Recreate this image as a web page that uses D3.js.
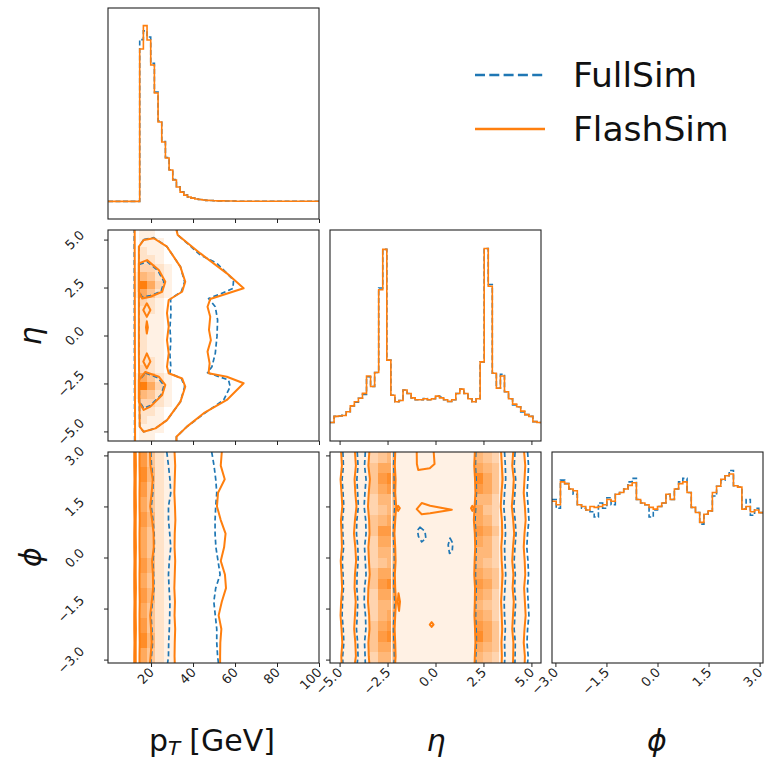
<!DOCTYPE html>
<html>
<head>
<meta charset="utf-8" />
<title>FullSim vs FlashSim corner plot</title>
<script src="https://d3js.org/d3.v7.min.js"></script>
<style>
  body { margin: 0; background: #ffffff; }
  svg text { font-family: 'DejaVu Sans', sans-serif; }
</style>
</head>
<body>
<svg id="viz" width="769" height="760"></svg>
<script>

// ---------- data ----------
var ptDomain = [-0.5, 100], etaDomain = [-5.5, 5.5], phiDomain = [-3.1, 3.1];
var ptTicks = [20, 40, 60, 80, 100];
var etaTicks = [-5, -2.5, 0, 2.5, 5];
var phiTicks = [-3, -1.5, 0, 1.5, 3];

// 1D histograms (normalised to the FlashSim maximum)
var ptStart = 14.6, ptWidth = 1.75;
var ptFlash = [0.867, 1.0, 0.918, 0.776, 0.617, 0.452, 0.338, 0.247, 0.179, 0.122, 0.082, 0.053, 0.036, 0.025,
  0.019, 0.014, 0.011, 0.008, 0.006, 0.005, 0.004, 0.003, 0.003, 0.002, 0.002, 0.002, 0.001, 0.001, 0.001, 0.001,
  0.001, 0.001, 0.001, 0.001, 0.001, 0.001, 0.001, 0.001, 0.001, 0.001, 0.001, 0.001, 0.001, 0.001, 0.001, 0.001,
  0.001, 0.001, 0.001];
var ptFull = [0.92, 0.97, 0.935, 0.785, 0.622, 0.457, 0.34, 0.25, 0.18, 0.124, 0.083, 0.054, 0.037, 0.026,
  0.019, 0.014, 0.011, 0.008, 0.006, 0.005, 0.004, 0.003, 0.003, 0.002, 0.002, 0.002, 0.001, 0.001, 0.001, 0.001,
  0.001, 0.001, 0.001, 0.001, 0.001, 0.001, 0.001, 0.001, 0.001, 0.001, 0.001, 0.001, 0.001, 0.001, 0.001, 0.001,
  0.001, 0.001, 0.001];

var etaStart = -5.5, etaWidth = 11 / 52;
var etaFlash = [0.005, 0.04, 0.042, 0.045, 0.066, 0.10, 0.123, 0.143, 0.171, 0.27,
  0.21, 0.29, 0.76, 0.99, 0.36, 0.16, 0.123, 0.13, 0.19, 0.17,
  0.145, 0.135, 0.135, 0.14, 0.135, 0.14, 0.155, 0.145, 0.135, 0.125,
  0.135, 0.17, 0.195, 0.17, 0.14, 0.123, 0.14, 0.35, 0.995, 0.78,
  0.285, 0.20, 0.27, 0.18, 0.14, 0.11, 0.095, 0.07, 0.05, 0.04,
  0.01, 0.005];
var etaFull = [0.005, 0.04, 0.042, 0.047, 0.066, 0.10, 0.12, 0.143, 0.165, 0.265,
  0.21, 0.29, 0.77, 0.99, 0.36, 0.16, 0.123, 0.13, 0.19, 0.17,
  0.145, 0.135, 0.135, 0.142, 0.135, 0.14, 0.155, 0.15, 0.135, 0.125,
  0.135, 0.17, 0.195, 0.17, 0.14, 0.123, 0.14, 0.35, 0.995, 0.79,
  0.285, 0.20, 0.28, 0.18, 0.14, 0.105, 0.095, 0.065, 0.05, 0.04,
  0.01, 0.005];

var phiStart = -3.1, phiWidth = 6.2 / 50;
var phiFlash = [0.82, 0.80, 0.93, 0.92, 0.89, 0.88, 0.80, 0.79, 0.77, 0.79,
  0.785, 0.79, 0.80, 0.83, 0.82, 0.86, 0.87, 0.89, 0.91, 0.925,
  0.83, 0.81, 0.80, 0.785, 0.775, 0.79, 0.81, 0.86, 0.83, 0.89,
  0.92, 0.93, 0.87, 0.785, 0.756, 0.70, 0.746, 0.765, 0.87, 0.905,
  0.945, 0.965, 0.975, 0.908, 0.90, 0.775, 0.79, 0.76, 0.77, 0.755];
var phiFull = [0.83, 0.78, 0.94, 0.92, 0.89, 0.86, 0.80, 0.78, 0.77, 0.76,
  0.73, 0.81, 0.78, 0.84, 0.80, 0.86, 0.87, 0.89, 0.93, 0.95,
  0.83, 0.81, 0.80, 0.73, 0.77, 0.79, 0.81, 0.86, 0.83, 0.89,
  0.93, 0.95, 0.87, 0.785, 0.756, 0.69, 0.746, 0.765, 0.85, 0.905,
  0.94, 0.965, 0.995, 0.908, 0.90, 0.775, 0.83, 0.74, 0.78, 0.755];

// pT vs eta: density cells (digits 0-9), rows from eta = +5.5 downwards, 0.44 wide
var aCellPt = [12.3, 14.3, 18, 22, 26, 30, 34, 38];
var aRows = [
  "0110000", "0111000", "0211000", "0221000", "0332100",
  "1542100", "1963100", "1642100", "0321000", "0221000",
  "0211000", "0211000", "0211000", "0211000", "0211000",
  "0221000", "0321000", "1642100", "1963100", "1542100",
  "0332100", "0221000", "0211000", "0111000", "0110000"];
// contours [pT, eta]
var aLeftFlash = [[12.2, 5.6], [12.3, 0], [12.4, -5.6]];
var aLeftFull = [[12.0, 5.6], [12.2, -5.6]];
var aOuterFlash = [[32.1, 5.6], [32.1, 5.5], [32.7, 5.24], [43.5, 4.28], [56.1, 3.24], [64.1, 2.46], [48.2, 1.9],
  [46.9, 1.5], [48.2, 0.98], [47.6, 0.29], [48.5, -0.24], [46.9, -0.84], [47.9, -1.45], [47.4, -1.97],
  [56.1, -2.15], [64.1, -2.49], [56.1, -3.36], [45.1, -4.05], [37.1, -4.75], [32.1, -5.28], [32.1, -5.6]];
var aOuterFull = [[32.1, 5.6], [32.7, 5.24], [43.5, 4.2], [51.4, 3.76], [59.3, 2.89], [59.0, 2.45], [53.0, 2.16],
  [47.4, 1.93], [50.6, 1.5], [51.7, 0.81], [51.4, -0.06], [50.6, -0.93], [49.0, -1.63], [46.9, -1.94],
  [56.9, -2.32], [57.7, -2.67], [54.6, -3.36], [46.6, -3.97], [37.1, -4.75], [32.1, -5.28], [32.1, -5.6]];
var aMidFlash = [[16.5, 4.98], [21.3, 5.07], [27.6, 4.63], [34.0, 3.58], [36.3, 2.80], [34.8, 2.28], [28.4, 1.85],
  [27.6, 1.16], [28.4, 0.46], [27.6, -0.24], [28.4, -0.93], [27.6, -1.63], [28.4, -1.97], [34.8, -2.24],
  [36.3, -2.67], [34.0, -3.45], [27.6, -4.41], [22.1, -4.84], [16.5, -5.02], [14.6, -4.75], [14.2, -0.93], [14.2, 4.63]];
var aMidFull = [[16.5, 5.0], [21.3, 5.1], [27.6, 4.63], [34.0, 3.58], [36.0, 2.8], [34.5, 2.3], [29.3, 1.9],
  [29.5, 1.2], [29.0, 0.4], [29.4, -0.3], [29.0, -1.0], [29.4, -1.6], [29.0, -1.97], [34.5, -2.24],
  [36.0, -2.67], [34.0, -3.45], [27.6, -4.41], [22.1, -4.84], [16.5, -5.02], [14.6, -4.75], [14.2, -0.93], [14.2, 4.63]];
var aLobesFlash = [
  [[14.2, 3.76], [18.1, 3.93], [23.7, 3.41], [26.8, 2.80], [25.3, 2.28], [19.7, 2.02], [15.8, 1.93], [14.2, 2.28]],
  [[17.3, -1.9], [23.7, -2.15], [26.8, -2.58], [25.3, -3.1], [19.7, -3.71], [16.5, -3.88], [14.2, -3.45], [14.2, -2.32]],
  [[18.0, 1.68], [19.7, 1.33], [18.0, 0.97], [16.3, 1.33]],
  [[18.0, -0.93], [19.7, -1.36], [18.0, -1.71], [16.3, -1.36]],
  [[18.0, 0.74], [18.5, 0.42], [18.0, 0.1], [17.6, 0.42]]];
var aLobesFull = [
  [[14.3, 3.7], [18.1, 3.85], [23.2, 3.4], [26.2, 2.8], [24.8, 2.3], [19.7, 2.08], [15.8, 2.0], [14.3, 2.3]],
  [[17.3, -1.95], [23.2, -2.2], [26.2, -2.6], [24.8, -3.1], [19.7, -3.65], [16.5, -3.8], [14.3, -3.4], [14.3, -2.35]]];

// pT vs phi
var phiKnots = [3.1, 2.7, 2.3, 1.9, 1.5, 1.1, 0.7, 0.3, -0.1, -0.5, -0.9, -1.3, -1.7, -2.1, -2.5, -2.9, -3.1];
var bCellPt = [14.5, 18, 22, 26, 31.3];
var bRows = ["7421", "8521", "7421", "6421", "7521", "6421", "6421",
  "7521", "6421", "7521", "6421", "7421", "8521", "6421"];
var bLinesFlash = [
  [12.0, 12.0, 12.1, 12.0, 12.0, 12.1, 12.0, 12.0, 12.1, 12.0, 12.0, 12.1, 12.0, 12.0, 12.1, 12.0, 12.0],
  [12.7, 12.8, 12.7, 12.7, 12.8, 12.7, 12.7, 12.8, 12.7, 12.7, 12.8, 12.7, 12.7, 12.8, 12.7, 12.7, 12.7],
  [14.5, 14.5, 14.6, 14.5, 14.5, 14.6, 14.5, 14.5, 14.6, 14.5, 14.5, 14.6, 14.5, 14.5, 14.6, 14.5, 14.5],
  [19.5, 19.7, 20.8, 20.3, 19.6, 20.5, 21.2, 21.3, 20.5, 20.9, 21.0, 20.3, 19.6, 20.0, 20.3, 19.8, 19.5],
  [31.2, 31.5, 31.3, 31.1, 31.4, 31.6, 31.3, 31.2, 31.5, 31.3, 31.1, 31.4, 31.2, 31.5, 31.3, 31.2, 31.3],
  [53.7, 53.2, 55.1, 51.9, 51.4, 53.2, 55.5, 54.8, 53.2, 55.2, 55.7, 53.7, 52.2, 53.5, 53.0, 52.9, 52.9]];
var bLinesFull = [
  [19.9, 20.2, 21.0, 20.8, 20.1, 20.9, 21.5, 21.6, 20.9, 21.2, 21.4, 20.7, 20.0, 20.4, 20.7, 20.2, 19.9],
  [27.5, 28.3, 29.0, 29.4, 28.3, 28.3, 28.9, 29.4, 28.7, 28.3, 28.6, 29.0, 28.9, 28.7, 28.4, 28.3, 27.9],
  [48.9, 50.0, 50.8, 51.3, 50.8, 50.5, 50.5, 50.9, 51.9, 52.9, 50.8, 49.9, 50.6, 51.3, 51.3, 51.7, 52.1]];

// eta vs phi
var cCellEta = [-5.5, -4.9, -4.2, -3.45, -2.99, -2.54, -2.1, 2.05, 2.5, 2.96, 3.45, 4.04, 4.65, 5.5];
var cRows = [
  "0113451543110", "0114661654110", "0114781864110", "0114671764110", "0113551553110",
  "0113451643110", "0114561653110", "0114771764110", "0113661653110", "0113551553110",
  "0113451543110", "0114661654110", "0114781764110", "0113661653110", "0113551543110",
  "0113561653110", "0114671764110", "0114781864110", "0114661654110", "0113551543110"];
var cLinesFlash = [
  [-4.92, -4.88, -4.95, -4.9, -4.86, -4.93, -4.9, -4.88, -4.94, -4.9, -4.87, -4.92, -4.95, -4.9, -4.86, -4.91, -4.9],
  [-4.2, -4.15, -4.22, -4.18, -4.12, -4.2, -4.25, -4.18, -4.14, -4.2, -4.22, -4.16, -4.2, -4.24, -4.18, -4.15, -4.2],
  [-3.45, -3.5, -3.42, -3.48, -3.52, -3.46, -3.44, -3.5, -3.47, -3.43, -3.5, -3.52, -3.46, -3.44, -3.5, -3.48, -3.45],
  [-2.1, -2.12, -2.08, -2.1, -2.05, -2.1, -2.14, -2.1, -2.08, -2.12, -2.1, -2.06, -2.1, -2.13, -2.1, -2.08, -2.1],
  [2.05, 2.02, 2.06, 2.08, 2.04, 2.0, 2.05, 2.07, 2.04, 2.02, 2.06, 2.05, 2.03, 2.06, 2.08, 2.05, 2.04],
  [3.42, 3.46, 3.5, 3.44, 3.4, 3.46, 3.48, 3.43, 3.45, 3.5, 3.46, 3.42, 3.45, 3.48, 3.44, 3.46, 3.45],
  [4.05, 4.0, 4.08, 4.04, 3.98, 4.05, 4.1, 4.04, 4.0, 4.06, 4.02, 4.08, 4.04, 4.0, 4.06, 4.05, 4.04],
  [4.62, 4.68, 4.64, 4.6, 4.66, 4.7, 4.64, 4.6, 4.65, 4.68, 4.62, 4.66, 4.7, 4.64, 4.6, 4.66, 4.65]];
var cLinesFull = [
  [-4.83, -4.8, -4.87, -4.82, -4.78, -4.85, -4.83, -4.79, -4.86, -4.82, -4.8, -4.85, -4.87, -4.81, -4.78, -4.84, -4.83],
  [-4.08, -4.04, -4.1, -4.06, -4.02, -4.1, -4.12, -4.05, -4.03, -4.09, -4.1, -4.05, -4.08, -4.12, -4.06, -4.04, -4.08],
  [-3.66, -3.7, -3.62, -3.68, -3.72, -3.64, -3.62, -3.7, -3.66, -3.62, -3.7, -3.72, -3.65, -3.63, -3.7, -3.67, -3.66],
  [-2.16, -2.18, -2.14, -2.16, -2.12, -2.17, -2.2, -2.16, -2.14, -2.18, -2.16, -2.12, -2.16, -2.19, -2.16, -2.14, -2.16],
  [2.1, 2.08, 2.12, 2.13, 2.1, 2.06, 2.1, 2.12, 2.1, 2.08, 2.12, 2.1, 2.09, 2.12, 2.13, 2.1, 2.1],
  [3.6, 3.64, 3.66, 3.6, 3.56, 3.62, 3.65, 3.6, 3.62, 3.66, 3.62, 3.58, 3.6, 3.64, 3.6, 3.62, 3.6],
  [4.15, 4.1, 4.18, 4.14, 4.08, 4.15, 4.2, 4.14, 4.1, 4.16, 4.12, 4.18, 4.14, 4.1, 4.16, 4.15, 4.14],
  [4.8, 4.85, 4.82, 4.77, 4.83, 4.87, 4.8, 4.76, 4.82, 4.85, 4.79, 4.83, 4.87, 4.8, 4.77, 4.83, 4.8]];
var cGapEta = [-2.28, 3.36];
var cLoopsFlash = [
  [[-0.98, 3.15], [-0.1, 3.15], [-0.05, 2.75], [-0.3, 2.62], [-0.9, 2.57], [-0.97, 2.75]],
  [[-0.98, 1.42], [-0.72, 1.6], [-0.28, 1.52], [0.85, 1.4], [-0.28, 1.3], [-0.72, 1.27]],
  [[-1.95, 1.52], [-1.86, 1.45], [-1.95, 1.37], [-2.02, 1.45]],
  [[1.92, 1.52], [2.0, 1.45], [1.92, 1.37], [1.85, 1.45]],
  [[-1.93, -1.05], [-1.85, -1.3], [-1.9, -1.57], [-1.97, -1.3]],
  [[-0.2, -1.9], [-0.1, -1.97], [-0.2, -2.04], [-0.3, -1.97]]];
var cLoopsFull = [
  [[-0.81, 0.89], [-0.55, 0.77], [-0.5, 0.56], [-0.72, 0.46], [-0.89, 0.62], [-0.94, 0.8]],
  [[0.76, 0.57], [0.9, 0.42], [0.87, 0.17], [0.73, 0.12], [0.66, 0.37]]];

var seriesNames = ["FullSim", "FlashSim"];

// ---------- layout ----------
var size = 211;
var colX = [108, 330, 552], rowY = [8, 230, 452];
var orange = "#ff7f0e", blue = "#1f77b4", ink = "#222222";
var shade = d3.interpolateRgb("#ffffff", orange);

var svg = d3.select("#viz");
var defs = svg.append("defs");

function xs(dom, col) { return d3.scaleLinear().domain(dom).range([colX[col], colX[col] + size]); }
function ys(dom, row) { return d3.scaleLinear().domain(dom).range([rowY[row] + size, rowY[row]]); }

var xPt = xs(ptDomain, 0), xEta = xs(etaDomain, 1), xPhi = xs(phiDomain, 2);
var yEta = ys(etaDomain, 1), yPhi = ys(phiDomain, 2);
var yHist = [0, 1, 2].map(function(r) { return ys([-0.1, 1.1], r); });

function panel(col, row) {
  var id = "clip" + col + row;
  defs.append("clipPath").attr("id", id).append("rect")
    .attr("x", colX[col]).attr("y", rowY[row]).attr("width", size).attr("height", size);
  return svg.append("g").attr("clip-path", "url(#" + id + ")");
}
function frame(col, row) {
  svg.append("rect").attr("x", colX[col]).attr("y", rowY[row]).attr("width", size).attr("height", size)
    .attr("fill", "none").attr("stroke", ink).attr("stroke-width", 1.1);
}

function hist(g, x, y, start, width, vals, lead, color, dashed) {
  var pts = [];
  if (lead != null) pts.push([lead, 0]);
  vals.forEach(function(v, i) { pts.push([start + i * width, v]); });
  pts.push([start + vals.length * width, vals[vals.length - 1]]);
  g.append("path").datum(pts)
    .attr("d", d3.line().curve(d3.curveStepAfter).x(function(d) { return x(d[0]); }).y(function(d) { return y(d[1]); }))
    .attr("fill", "none").attr("stroke", color).attr("stroke-width", 1.6)
    .attr("stroke-dasharray", dashed ? "5,2.5" : null);
}

function cells(g, x, y, xEdges, yEdges, rows) {
  rows.forEach(function(row, r) {
    row.split("").forEach(function(ch, c) {
      var d = +ch;
      if (!d) return;
      g.append("rect")
        .attr("x", x(xEdges[c])).attr("y", y(yEdges[r]))
        .attr("width", x(xEdges[c + 1]) - x(xEdges[c]))
        .attr("height", y(yEdges[r + 1]) - y(yEdges[r]))
        .attr("fill", shade(d / 9)).attr("shape-rendering", "crispEdges");
    });
  });
}

function contour(g, x, y, pts, color, dashed, closed) {
  g.append("path").datum(pts)
    .attr("d", d3.line().curve(closed ? d3.curveLinearClosed : d3.curveLinear)
      .x(function(d) { return x(d[0]); }).y(function(d) { return y(d[1]); }))
    .attr("fill", "none").attr("stroke", color)
    .attr("stroke-width", dashed ? 1.7 : 2)
    .attr("stroke-dasharray", dashed ? "5,3" : null)
    .attr("stroke-linejoin", "round");
}
// vertical line given as x values at the phi knots
function knotLine(vals) { return vals.map(function(v, i) { return [v, phiKnots[i]]; }); }

// ---------- 1D panels ----------
var g00 = panel(0, 0);
hist(g00, xPt, yHist[0], ptStart, ptWidth, ptFull, -0.5, blue, true);
hist(g00, xPt, yHist[0], ptStart, ptWidth, ptFlash, -0.5, orange, false);
frame(0, 0);

var g11 = panel(1, 1);
hist(g11, xEta, yHist[1], etaStart, etaWidth, etaFull, null, blue, true);
hist(g11, xEta, yHist[1], etaStart, etaWidth, etaFlash, null, orange, false);
frame(1, 1);

var g22 = panel(2, 2);
hist(g22, xPhi, yHist[2], phiStart, phiWidth, phiFull, null, blue, true);
hist(g22, xPhi, yHist[2], phiStart, phiWidth, phiFlash, null, orange, false);
frame(2, 2);

// ---------- pT vs eta ----------
var g01 = panel(0, 1);
cells(g01, xPt, yEta, aCellPt, d3.range(26).map(function(i) { return 5.5 - 0.44 * i; }), aRows);
contour(g01, xPt, yEta, aLeftFull, blue, true, false);
contour(g01, xPt, yEta, aOuterFull, blue, true, false);
contour(g01, xPt, yEta, aMidFull, blue, true, true);
aLobesFull.forEach(function(l) { contour(g01, xPt, yEta, l, blue, true, true); });
contour(g01, xPt, yEta, aLeftFlash, orange, false, false);
contour(g01, xPt, yEta, aOuterFlash, orange, false, false);
contour(g01, xPt, yEta, aMidFlash, orange, false, true);
aLobesFlash.forEach(function(l) { contour(g01, xPt, yEta, l, orange, false, true); });
frame(0, 1);

// ---------- pT vs phi ----------
var g02 = panel(0, 2);
cells(g02, xPt, yPhi, bCellPt, d3.range(15).map(function(i) { return 3.1 - 6.2 / 14 * i; }), bRows);
bLinesFull.forEach(function(l) { contour(g02, xPt, yPhi, knotLine(l), blue, true, false); });
bLinesFlash.forEach(function(l) { contour(g02, xPt, yPhi, knotLine(l), orange, false, false); });
frame(0, 2);

// ---------- eta vs phi ----------
var g12 = panel(1, 2);
cells(g12, xEta, yPhi, cCellEta, d3.range(21).map(function(i) { return 3.1 - 0.31 * i; }), cRows);
cGapEta.forEach(function(e) {
  g12.append("line").attr("x1", xEta(e)).attr("x2", xEta(e))
    .attr("y1", yPhi(3.1)).attr("y2", yPhi(-3.1)).attr("stroke", "#ffffff").attr("stroke-width", 1.3);
});
cLinesFull.forEach(function(l) { contour(g12, xEta, yPhi, knotLine(l), blue, true, false); });
cLoopsFull.forEach(function(l) { contour(g12, xEta, yPhi, l, blue, true, true); });
cLinesFlash.forEach(function(l) { contour(g12, xEta, yPhi, knotLine(l), orange, false, false); });
cLoopsFlash.forEach(function(l) { contour(g12, xEta, yPhi, l, orange, false, true); });
frame(1, 2);

// ---------- axes ----------
var fmt1 = d3.format(".1f"), fmt0 = d3.format("d");

function bottomAxis(scale, ticks, row, format) {
  var g = svg.append("g").attr("transform", "translate(0," + (rowY[row] + size) + ")")
    .call(d3.axisBottom(scale).tickValues(ticks).tickSize(4).tickFormat(format || ""));
  g.select(".domain").remove();
  g.selectAll("line").attr("stroke", ink);
  g.attr("font-family", "DejaVu Sans").attr("font-size", 13);
  if (format) {
    g.selectAll("text").attr("x", 0).attr("y", 0).attr("dy", "0.35em")
      .attr("fill", ink).attr("text-anchor", "end")
      .attr("transform", "translate(0,7) rotate(-45)");
  }
}
function leftAxis(scale, ticks, col, format) {
  var g = svg.append("g").attr("transform", "translate(" + colX[col] + ",0)")
    .call(d3.axisLeft(scale).tickValues(ticks).tickSize(4).tickFormat(format || ""));
  g.select(".domain").remove();
  g.selectAll("line").attr("stroke", ink);
  g.attr("font-family", "DejaVu Sans").attr("font-size", 13);
  if (format) {
    g.selectAll("text").attr("x", 0).attr("y", 0).attr("dy", "0.35em")
      .attr("fill", ink).attr("text-anchor", "end")
      .attr("transform", function() {
        var w = this.getComputedTextLength();
        return "translate(-26," + (-w * 0.354) + ") rotate(-45)";
      });
  }
}

bottomAxis(xPt, ptTicks, 0, null);
bottomAxis(xPt, ptTicks, 1, null);
bottomAxis(xEta, etaTicks, 1, null);
bottomAxis(xPt, ptTicks, 2, fmt0);
bottomAxis(xEta, etaTicks, 2, fmt1);
bottomAxis(xPhi, phiTicks, 2, fmt1);
leftAxis(yEta, etaTicks, 0, fmt1);
leftAxis(yPhi, phiTicks, 0, fmt1);
leftAxis(yPhi, phiTicks, 1, null);

// ---------- axis titles ----------
// p_T [GeV] built from three pieces, centred under the first column
var tP = svg.append("text").attr("y", 751).attr("font-size", 30).attr("fill", "#111").text("p");
var tT = svg.append("text").attr("y", 755).attr("font-size", 20).attr("font-style", "italic").attr("fill", "#111").text("T");
var tG = svg.append("text").attr("y", 751).attr("font-size", 30).attr("fill", "#111").text("[GeV]");
var wP = tP.node().getComputedTextLength(), wT = tT.node().getComputedTextLength(), wG = tG.node().getComputedTextLength();
var gapW = 9, startX = 212 - (wP + wT + gapW + wG) / 2;
tP.attr("x", startX);
tT.attr("x", startX + wP);
tG.attr("x", startX + wP + wT + gapW);

svg.append("text").attr("x", 436).attr("y", 751).attr("text-anchor", "middle")
  .attr("font-size", 30).attr("font-style", "italic").attr("fill", "#111").text("η");
svg.append("text").attr("x", 657).attr("y", 751).attr("text-anchor", "middle")
  .attr("font-size", 30).attr("font-style", "italic").attr("fill", "#111").text("ϕ");
svg.append("text").attr("transform", "translate(41,336) rotate(-90)").attr("text-anchor", "middle")
  .attr("font-size", 30).attr("font-style", "italic").attr("fill", "#111").text("η");
svg.append("text").attr("transform", "translate(41,557) rotate(-90)").attr("text-anchor", "middle")
  .attr("font-size", 30).attr("font-style", "italic").attr("fill", "#111").text("ϕ");

// ---------- legend ----------
var legend = svg.append("g");
[[75, blue, "10,4.3"], [129, orange, null]].forEach(function(d, i) {
  legend.append("line").attr("x1", 475).attr("x2", 545).attr("y1", d[0]).attr("y2", d[0])
    .attr("stroke", d[1]).attr("stroke-width", 2.7).attr("stroke-dasharray", d[2]);
  legend.append("text").attr("x", 573).attr("y", d[0] + 12).attr("font-size", 34.5).attr("fill", "#111")
    .text(seriesNames[i]);
});

</script>
</body>
</html>
